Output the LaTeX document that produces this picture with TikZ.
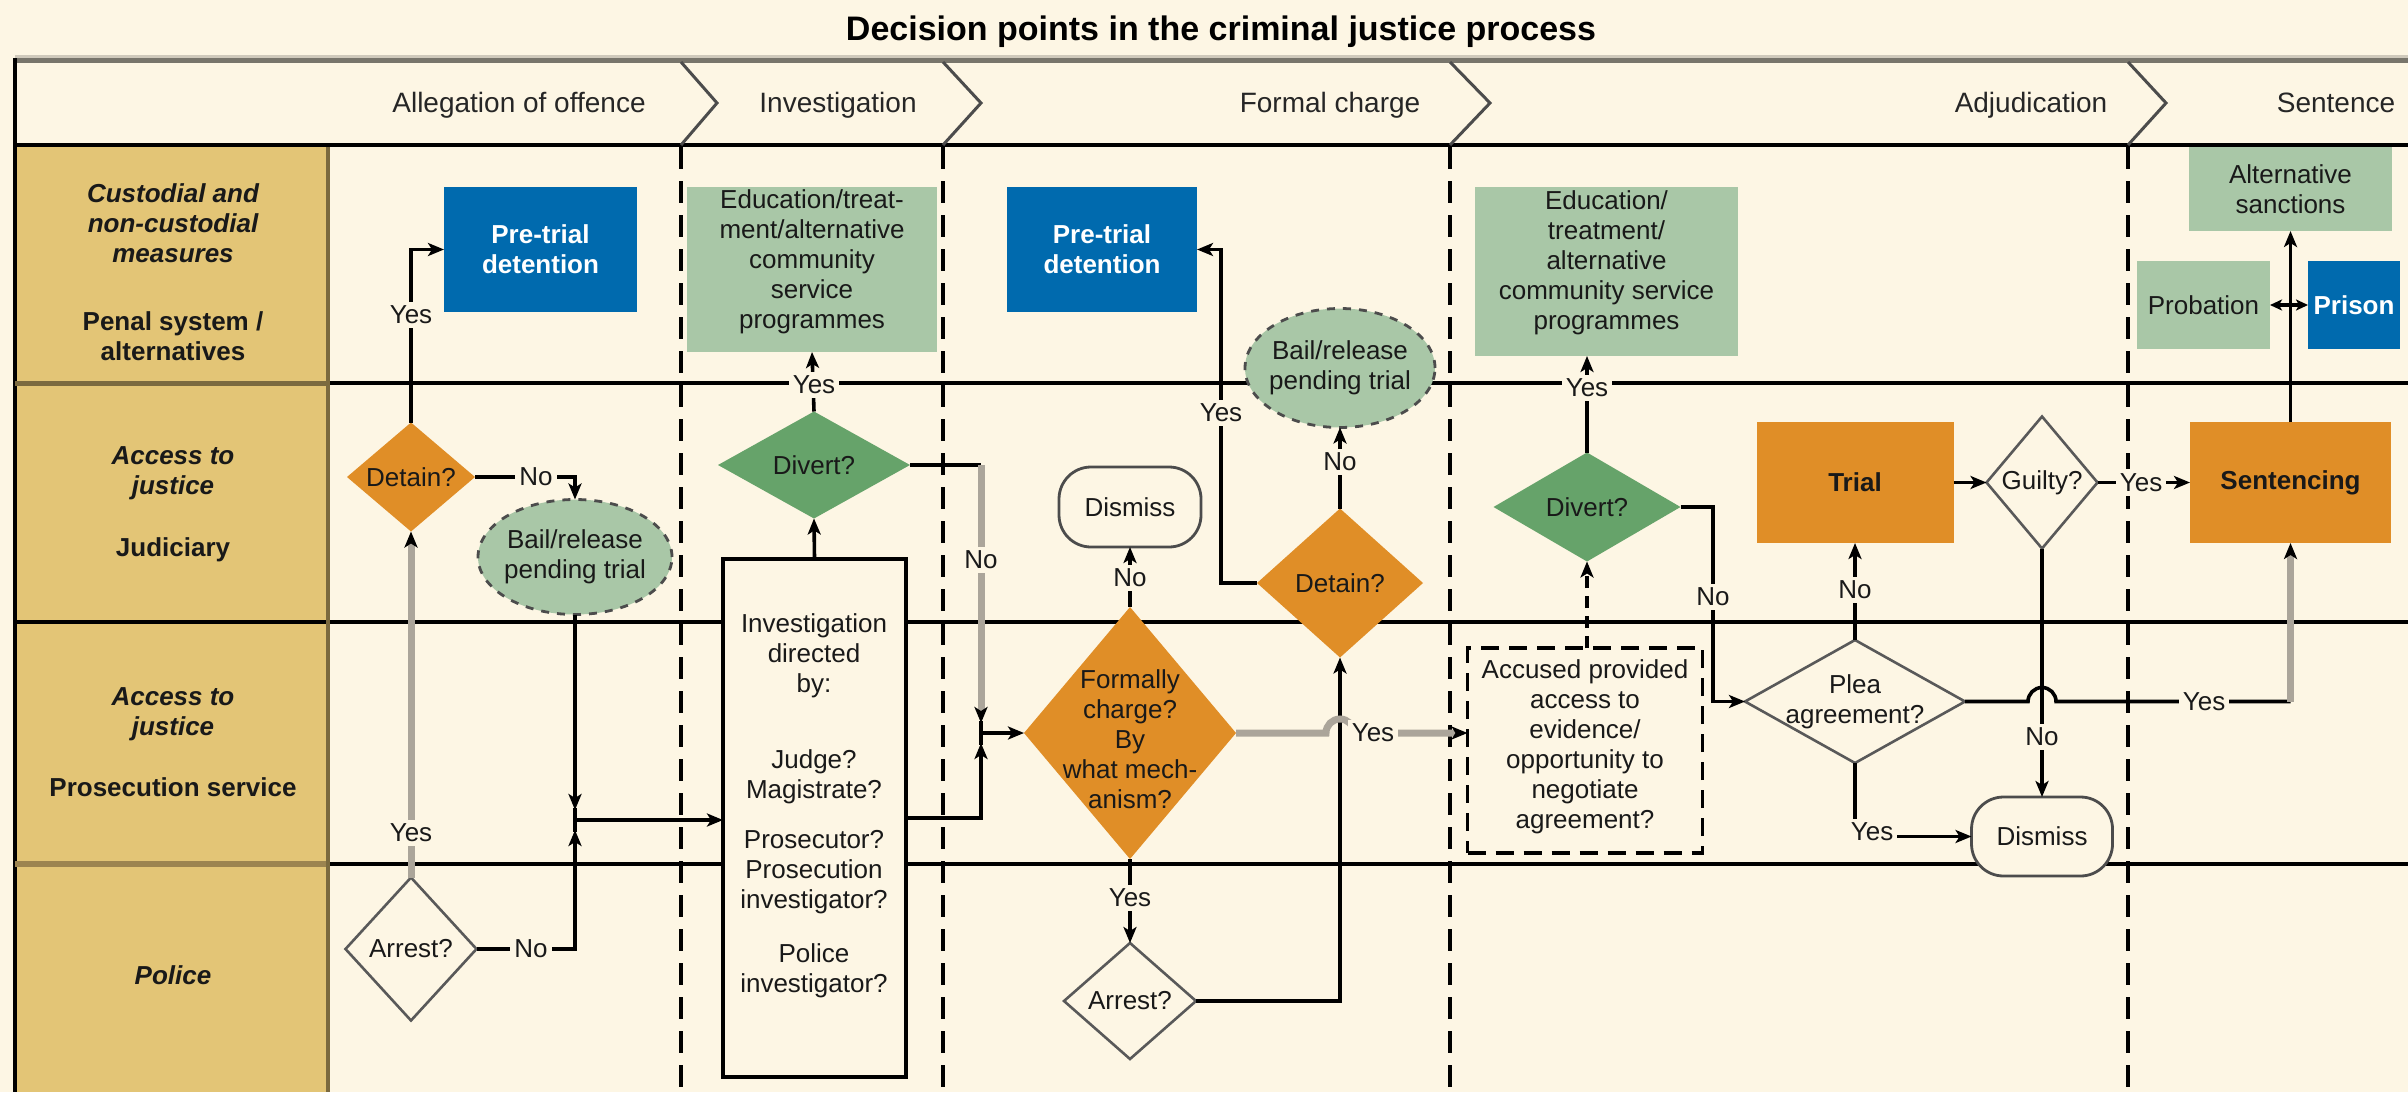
\documentclass[tikz,border=0pt]{standalone}
\usepackage{fontspec}
\setmainfont{Liberation Sans}
\usetikzlibrary{shapes.geometric,arrows.meta,calc}
\definecolor{bg}{HTML}{FDF6E4}
\definecolor{tancol}{HTML}{E3C576}
\definecolor{tanline}{HTML}{7B6A3F}
\definecolor{tanband}{HTML}{9C8450}
\definecolor{blu}{HTML}{006AAE}
\definecolor{lgreen}{HTML}{A9C7A7}
\definecolor{dgreen}{HTML}{66A36A}
\definecolor{orng}{HTML}{E08E27}
\definecolor{gline}{HTML}{ABA59A}
\definecolor{hdrgray}{HTML}{78756B}
\definecolor{hdrlight}{HTML}{CFC9BB}
\begin{document}
\begin{tikzpicture}[x=0.5pt,y=-0.5pt,
  every node/.style={inner sep=0pt, outer sep=0pt},
  txt/.style={font=\fontsize{13pt}{15pt}\selectfont, align=center, text=black!90},
  btxt/.style={font=\fontsize{13pt}{15pt}\selectfont\bfseries, align=center, text=black!90},
  wtxt/.style={btxt, text=white},
  rowtxt/.style={font=\fontsize{13pt}{15pt}\selectfont\bfseries, align=center, text=black!90},
  hdrtxt/.style={font=\fontsize{14pt}{16pt}\selectfont, text=black!85, anchor=base},
  bbox/.style={rectangle, fill=blu},
  gbox/.style={rectangle, fill=lgreen},
  obox/.style={rectangle, fill=orng},
  odia/.style={diamond, fill=orng},
  gdia/.style={diamond, fill=dgreen},
  wdia/.style={diamond, fill=bg, draw=black!65, line width=1.3pt},
  bailnode/.style={ellipse, fill=lgreen, draw=black!70, line width=1.4pt, dash pattern=on 4pt off 4pt},
  dismissnode/.style={rectangle, rounded corners=16pt, fill=bg, draw=black!70, line width=1.4pt},
  invnode/.style={rectangle, fill=bg, draw=black, line width=2pt},
  accnode/.style={rectangle, draw=black, line width=1.8pt, dash pattern=on 9pt off 5pt},
  conn/.style={line width=1.8pt, draw=black},
  gconn/.style={line width=3.5pt, draw=gline},
  lab/.style={txt, fill=bg, inner sep=2pt},
  >={Stealth[length=8pt,width=6.5pt,inset=2pt]},
  gtip/.style={-{Stealth[length=8pt,width=6.5pt,inset=2pt,color=black]}},
  smalltip/.style={-{Stealth[length=6pt,width=5.5pt,inset=1.5pt]}},
  rowline/.style={line width=1.6pt, draw=black},
  coldash/.style={line width=1.8pt, draw=black, dash pattern=on 11pt off 6pt},
  chev/.style={line width=1.5pt, draw=black!70},
]
% canvas
\useasboundingbox (0,0) rectangle (2408,1092);
\fill[bg] (0,0) rectangle (2408,1092);
\fill[tancol] (15,147) rectangle (328,1092);

% title
\node[font=\fontsize{17pt}{20pt}\selectfont\bfseries, anchor=base] (title) at (1221,40) {Decision points in the criminal justice process};

% header
\fill[hdrlight] (15,55) rectangle (2408,58);
\fill[hdrgray] (15,58) rectangle (2408,63);
\draw[line width=2pt] (15,145) -- (2408,145);
\draw[line width=1.6pt] (15,58) -- (15,1092);
\draw[chev] (681,62) -- (717,103) -- (681,145);
\draw[chev] (943,62) -- (981,103) -- (943,145);
\draw[chev] (1450,62) -- (1490,103) -- (1450,145);
\draw[chev] (2128,62) -- (2166,103) -- (2128,145);
\node[hdrtxt] (h1t) at (519,112) {Allegation of offence};
\node[hdrtxt] (h2t) at (838,112) {Investigation};
\node[hdrtxt] (h3t) at (1330,112) {Formal charge};
\node[hdrtxt] (h4t) at (2031,112) {Adjudication};
\node[hdrtxt] (h5t) at (2336,112) {Sentence};

% rows
\draw[line width=2.5pt, tanline] (15,383) -- (328,383);
\draw[line width=3pt, tanband] (15,864) -- (328,864);
\draw[rowline] (328,383) -- (2408,383);
\draw[rowline] (15,622) -- (2408,622);
\draw[rowline] (328,864) -- (2408,864);
\draw[line width=2pt, tanline] (328,147) -- (328,1092);

% row labels
\node[rowtxt] (r1) at (173,272) {\itshape Custodial and\\\itshape non-custodial\\\itshape measures\\[19pt]\upshape Penal system /\\\upshape alternatives};
\node[rowtxt] (r2) at (173,504) {\itshape Access to\\\itshape justice\\[16pt]\upshape Judiciary};
\node[rowtxt] (r3) at (173,742) {\itshape Access to\\\itshape justice\\[15.5pt]\upshape Prosecution service};
\node[rowtxt] (r4) at (173,975) {\itshape Police};

% column dividers
\draw[coldash] (681,147) -- (681,1092);
\draw[coldash] (943,147) -- (943,1092);
\draw[coldash] (1450,147) -- (1450,1092);
\draw[coldash] (2128,147) -- (2128,1092);

% ---- column 1: allegation
\node[bbox, wtxt, minimum width=96.5pt, minimum height=62.5pt] (pt1) at (540.5,249.5) {Pre-trial\\detention};
\node[odia, minimum width=64pt, minimum height=54.5pt] (det1) at (411,477) {};
\node[txt] (det1t) at (det1) {Detain?};
\node[bailnode, minimum width=97pt, minimum height=57.5pt] (bail1) at (575,557) {};
\node[txt] (bail1t) at (bail1) {Bail/release\\pending trial};
\node[wdia, minimum width=65.5pt, minimum height=71.5pt] (arr1) at (411,949) {};
\node[txt] (arr1t) at (arr1) {Arrest?};

% ---- column 2: investigation
\node[gbox, minimum width=125pt, minimum height=82.5pt] (edu1) at (812,269.5) {};
\node[txt] (edu1t) at (812,262) {Education/treat-\\ment/alternative\\community\\service\\programmes};
\node[gdia, minimum width=96pt, minimum height=53.5pt] (div1) at (814,465) {};
\node[txt] (div1t) at (div1) {Divert?};
\node[invnode, minimum width=91.5pt, minimum height=259pt] (inv) at (814.5,818) {};
\node[txt] (invt) at (814,806) {Investigation\\directed\\by:\\[23pt]Judge?\\Magistrate?\\[10pt]Prosecutor?\\Prosecution\\investigator?\\[12pt]Police\\investigator?};

% ---- column 3: formal charge
\node[bbox, wtxt, minimum width=95pt, minimum height=62.5pt] (pt2) at (1102,249.5) {Pre-trial\\detention};
\node[bailnode, minimum width=95pt, minimum height=59.5pt] (bail2) at (1340,368) {};
\node[txt] (bail2t) at (bail2) {Bail/release\\pending trial};
\node[odia, minimum width=83pt, minimum height=74.5pt] (det2) at (1340,583) {};
\node[txt] (det2t) at (det2) {Detain?};
\node[dismissnode, txt, minimum width=71pt, minimum height=40pt] (dis1) at (1130,507) {Dismiss};
\node[odia, minimum width=106pt, minimum height=126pt] (fc) at (1130,733) {};
\node[txt] (fct) at (1130,739) {Formally\\charge?\\By\\what mech-\\anism?};
\node[wdia, minimum width=66pt, minimum height=58pt] (arr2) at (1130,1001) {};
\node[txt] (arr2t) at (arr2) {Arrest?};

% ---- column 4: adjudication
\node[gbox, minimum width=131.5pt, minimum height=84.5pt] (edu2) at (1606.5,271.5) {};
\node[txt] (edu2t) at (1606.5,262.5) {Education/\\treatment/\\alternative\\community service\\programmes};
\node[gdia, minimum width=93.5pt, minimum height=54.5pt] (div2) at (1587,507) {};
\node[txt] (div2t) at (div2) {Divert?};
\node[accnode, minimum width=117.5pt, minimum height=102.5pt] (acc) at (1585,750.5) {};
\node[txt] (acct) at (1585,747) {Accused provided\\access to\\evidence/\\opportunity to\\negotiate\\agreement?};
\node[obox, btxt, minimum width=98.5pt, minimum height=60.5pt] (trial) at (1855,482.5) {Trial};
\node[wdia, minimum width=55.5pt, minimum height=66pt] (guilty) at (2042,482.5) {};
\node[txt] (guiltyt) at (guilty) {Guilty?};
\node[wdia, minimum width=110pt, minimum height=61.5pt] (plea) at (1855,701.5) {};
\node[txt] (pleat) at (plea) {Plea\\agreement?};
\node[dismissnode, txt, minimum width=70.5pt, minimum height=39.5pt] (dis2) at (2042,836.5) {Dismiss};

% ---- column 5: sentence
\node[gbox, txt, minimum width=101.5pt, minimum height=42pt] (alt) at (2290.5,189) {Alternative\\sanctions};
\node[gbox, txt, minimum width=66.5pt, minimum height=44pt] (prob) at (2203.5,305) {Probation};
\node[bbox, wtxt, minimum width=46pt, minimum height=44pt] (prison) at (2354,305) {Prison};
\node[obox, btxt, minimum width=100.5pt, minimum height=60.5pt] (sent) at (2290.5,482.5) {Sentencing};

% ---- connectors column 1
\draw[conn,->] (det1.north) |- (pt1.west);
\draw[conn,->] (det1.east) -| (bail1.north);
\draw[gconn,gtip] (arr1.north) -- (det1.south);
\coordinate (j1) at (575,820);
\draw[conn,->,shorten >=5pt] (bail1.south) -- (j1);
\draw[conn,->,shorten >=5pt] (arr1.east) -| (j1);
\draw[conn] ($(j1)+(0,-12)$) -- ($(j1)+(0,12)$);
\draw[conn,->] (j1) -- (j1 -| inv.west);

% ---- connectors column 2
\draw[conn,->] (div1.north) -- (edu1.south);
\draw[conn,->] (inv.north) -- (div1.south);
\coordinate (j2) at (981,733);
\coordinate (c2) at (981,465);
\draw[conn] (div1.east) -- (c2);
\draw[gconn,gtip,shorten >=5pt] (c2) -- (j2);
\draw[conn,->,shorten >=5pt] (inv.east) -| (j2);
\draw[conn] ($(j2)+(0,-12)$) -- ($(j2)+(0,12)$);
\draw[conn,->] (j2) -- (fc.west);

% ---- connectors column 3
\coordinate (c3) at (1221,583);
\draw[conn,->] (det2.west) -- (c3) |- (pt2.east);
\draw[conn,->] (det2.north) -- (bail2.south);
\draw[conn,->] (fc.north) -- (dis1.south);
\draw[conn,->] (fc.south) -- (arr2.north);
\draw[conn,->] (arr2.east) -| (det2.south);
\coordinate (hop1) at (1326,733);
\draw[gconn,gtip] (fc.east) -- (hop1) arc[start angle=180,end angle=0,radius=7pt] -- (fc.east -| acc.west);

% ---- connectors column 4
\draw[conn,->] (div2.north) -- (div2.north |- edu2.south);
\draw[conn,->,dash pattern=on 6pt off 4pt] (acc.north -| div2.south) -- (div2.south);
\coordinate (c4) at (1713,701.5);
\draw[conn,->] (div2.east) -| (c4) -- (plea.west);
\draw[conn,->] (plea.north) -- (trial.south);
\draw[conn,->] (plea.south) |- (dis2.west);
\draw[conn,->] (trial.east) -- (guilty.west);
\draw[conn,->] (guilty.east) -- (sent.west);
\draw[conn,->] (guilty.south) -- (dis2.north);
\coordinate (hop2) at (2028,701.5);
\coordinate (c5) at (sent.south |- plea.east);
\draw[conn] (plea.east) -- (hop2) arc[start angle=180,end angle=0,radius=7pt] -- (c5);
\draw[gconn,gtip] (c5) -- (sent.south);

% ---- connectors column 5
\draw[conn,->] (sent.north) -- (alt.south);
\coordinate (pp) at (sent.north |- prob.east);
\draw[conn,smalltip] (pp) -- (prob.east);
\draw[conn,smalltip] (pp) -- (prison.west);

% ---- connector labels
\node[lab] (l1) at (411,315) {Yes};
\node[lab] (l2) at (536,477) {No};
\node[lab] (l3) at (411,833) {Yes};
\node[lab] (l4) at (531,949) {No};
\node[lab] (l5) at (814,385) {Yes};
\node[lab] (l6) at (981,560) {No};
\node[lab] (l7) at (1221,413) {Yes};
\node[lab] (l8) at (1340,462) {No};
\node[lab] (l9) at (1130,578) {No};
\node[lab] (l10) at (1130,898) {Yes};
\node[lab] (l11) at (1373,733) {Yes};
\node[lab] (l12) at (1587,388) {Yes};
\node[lab] (l13) at (1713,597) {No};
\node[lab] (l14) at (1855,590) {No};
\node[lab] (l15) at (1872,832) {Yes};
\node[lab] (l16) at (2141,482.5) {Yes};
\node[lab] (l17) at (2042,737) {No};
\node[lab] (l18) at (2204,701.5) {Yes};
\end{tikzpicture}
\end{document}
